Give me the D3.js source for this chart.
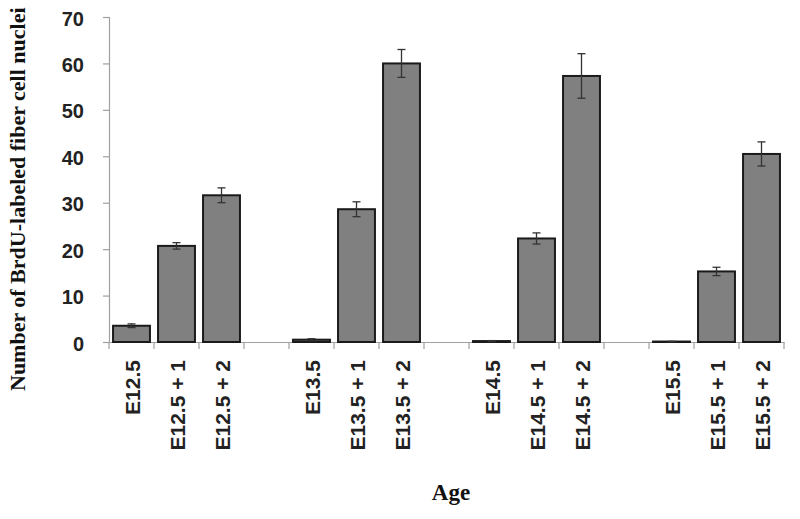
<!DOCTYPE html>
<html><head><meta charset="utf-8">
<script src="https://cdn.jsdelivr.net/npm/d3@7"></script>
<style>body{margin:0;background:#fff}</style>
</head><body>
<svg id="c" width="800" height="519"></svg>
<script>
const categories = ["E12.5","E12.5 + 1","E12.5 + 2","gap1","E13.5","E13.5 + 1","E13.5 + 2","gap2","E14.5","E14.5 + 1","E14.5 + 2","gap3","E15.5","E15.5 + 1","E15.5 + 2"];
const values = [3.5,20.7,31.6,null,0.5,28.6,60.0,null,0.2,22.3,57.3,null,0.1,15.2,40.5];
const errors = [0.4,0.7,1.6,null,0.2,1.6,3.0,null,0.1,1.2,4.8,null,0.05,0.9,2.6];
const yTicks = [0,10,20,30,40,50,60,70];

const svg = d3.select("#c");
const m = {left:109};
const x = d3.scaleBand().domain(categories).range([m.left, m.left + 45*15]).paddingInner(0.18).paddingOuter(0.09);
const y = d3.scaleLinear().domain([0,70]).range([342,17]);

// y axis
const ya = svg.append("g").attr("transform",`translate(${m.left},0)`)
  .call(d3.axisLeft(y).tickValues(yTicks).tickSize(6).tickPadding(19));
ya.select(".domain").attr("stroke","#a0a0a0").attr("stroke-width",1.2);
ya.selectAll(".tick line").attr("stroke","#a0a0a0").attr("stroke-width",1.2);
ya.selectAll("text").attr("font-family","Liberation Sans, Arial, sans-serif").attr("font-weight","bold").attr("font-size",20).attr("fill","#222").attr("dy","0.4em");

// x axis
const xa = svg.append("g").attr("transform",`translate(0,342)`)
  .call(d3.axisBottom(x).tickSize(0).tickFormat(d => d.startsWith("gap") ? "" : d));
xa.select(".domain").attr("stroke","#a0a0a0").attr("stroke-width",1.2);
xa.selectAll(".tick line").remove();
const bounds = d3.range(16).map(i => m.left + 45*i);
svg.append("g").selectAll("line").data(bounds).join("line")
  .attr("x1",d=>d).attr("x2",d=>d).attr("y1",342).attr("y2",349)
  .attr("stroke","#a0a0a0").attr("stroke-width",1.2);
xa.selectAll(".tick text")
  .attr("font-family","Liberation Sans, Arial, sans-serif").attr("font-weight","bold").attr("font-size",21).attr("fill","#222")
  .attr("transform","rotate(-90)").attr("text-anchor","end")
  .attr("x",-18).attr("y",1.5).attr("dy","0.35em");

// bars
const data = categories.map((c,i)=>({c, v:values[i], e:errors[i]})).filter(d=>d.v!==null);
svg.append("g").selectAll("rect").data(data).join("rect")
  .attr("x",d=>x(d.c)).attr("width",x.bandwidth())
  .attr("y",d=>y(d.v)).attr("height",d=>342-y(d.v))
  .attr("fill","#808080").attr("stroke","#1a1a1a").attr("stroke-width",2);

// error bars
const eg = svg.append("g").attr("stroke","#333").attr("stroke-width",1.3);
data.forEach(d=>{
  const cx = x(d.c)+x.bandwidth()/2;
  eg.append("line").attr("x1",cx).attr("x2",cx).attr("y1",y(d.v+d.e)).attr("y2",y(d.v-d.e));
  eg.append("line").attr("x1",cx-4).attr("x2",cx+4).attr("y1",y(d.v+d.e)).attr("y2",y(d.v+d.e));
  eg.append("line").attr("x1",cx-4).attr("x2",cx+4).attr("y1",y(d.v-d.e)).attr("y2",y(d.v-d.e));
});

// titles
svg.append("text").attr("transform","translate(25,391) rotate(-90)").attr("text-anchor","start")
  .attr("font-family","Liberation Serif, Times New Roman, serif").attr("font-weight","bold").attr("font-size",22).attr("fill","#111")
  .text("Number of BrdU-labeled fiber cell nuclei");
svg.append("text").attr("x",451).attr("y",500).attr("text-anchor","middle")
  .attr("font-family","Liberation Serif, Times New Roman, serif").attr("font-weight","bold").attr("font-size",23).attr("fill","#111")
  .text("Age");
</script>
</body></html>
